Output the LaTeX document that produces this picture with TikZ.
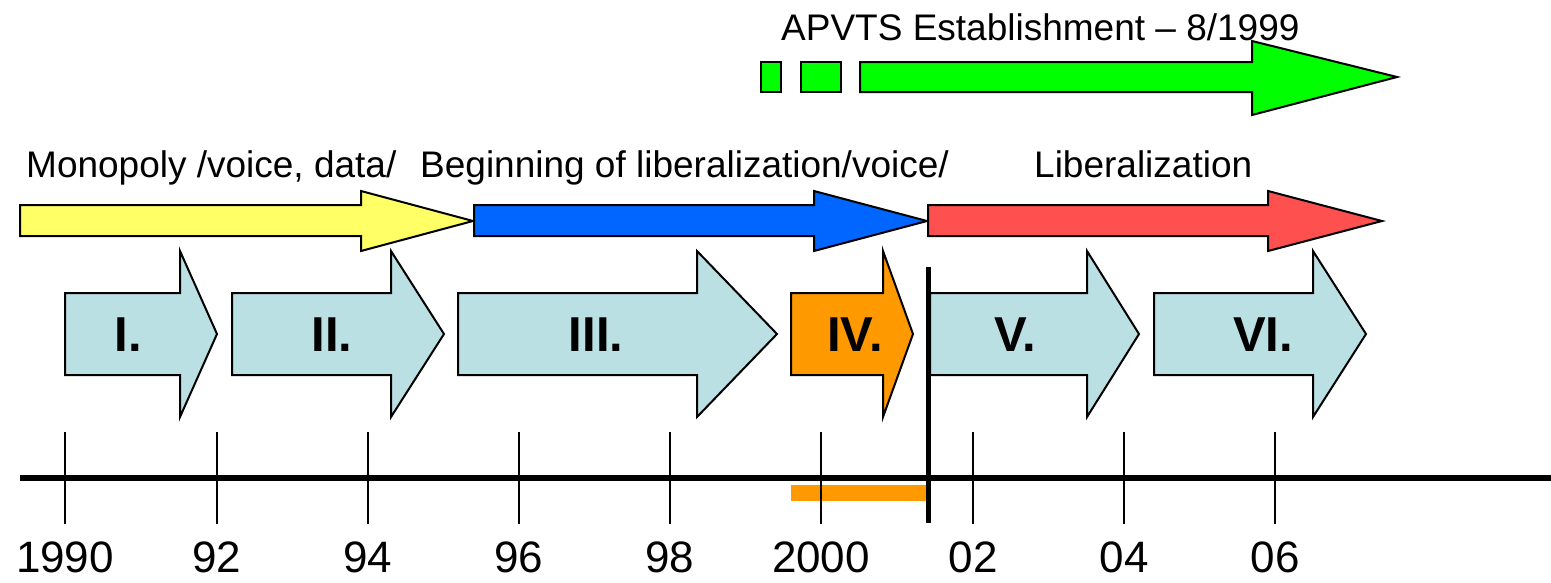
\documentclass[tikz,border=0pt]{standalone}
\usepackage{fontspec}
\setmainfont{Liberation Sans}
\usepackage{tikz}

\definecolor{phase}{HTML}{BBE0E3}
\definecolor{phaseiv}{HTML}{FF9900}
\definecolor{mono}{HTML}{FFFF66}
\definecolor{begin}{HTML}{0066FF}
\definecolor{liber}{HTML}{FF5050}
\definecolor{apvts}{HTML}{00FF00}

\begin{document}
\begin{tikzpicture}[x=1pt, y=-1pt, line join=miter,
        bigarr/.style = {draw, line width=2pt, fill=phase},
        toparr/.style = {draw, line width=2pt},
        tick/.style = {line width=1.6pt},
        era/.style = {anchor=base west, inner sep=0pt, font=\fontsize{37}{40}\selectfont},
        year/.style = {anchor=base, inner sep=0pt, font=\fontsize{44}{48}\selectfont},
        roman/.style = {inner sep=0pt, font=\fontsize{49}{52}\selectfont\bfseries}]

        \useasboundingbox (0,0) rectangle (1551,582);

        % era texts
        \node[era] (apvtsT) at (781,40) {APVTS Establishment -- 8/1999};
        \node[era] (monoT) at (26,177) {Monopoly /voice, data/};
        \node[era] (beginT) at (420,177) {Beginning of liberalization/voice/};
        \node[era] (liberT) at (1034,177) {Liberalization};

        % era arrows
        \draw[toparr, fill=apvts] (761,62) rectangle (781,92);
        \draw[toparr, fill=apvts] (801,62) rectangle (841,92);
        \draw[toparr, fill=apvts] (860,62) -- (1252,62) -- (1252,41) -- (1397,77) -- (1252,115) -- (1252,92) -- (860,92) -- cycle;
        \draw[toparr, fill=mono] (20,205) -- (361,205) -- (361,191) -- (473,221) -- (361,251) -- (361,236) -- (20,236) -- cycle;
        \draw[toparr, fill=begin] (474,205) -- (814,205) -- (814,191) -- (927,221) -- (814,251) -- (814,236) -- (474,236) -- cycle;
        \draw[toparr, fill=liber] (928,205) -- (1268,205) -- (1268,191) -- (1382,221) -- (1268,251) -- (1268,236) -- (928,236) -- cycle;

        % phase arrows
        \draw[bigarr] (65,293) -- (180,293) -- (180,251) -- (217,334) -- (180,417) -- (180,375) -- (65,375) -- cycle;
        \draw[bigarr] (232,293) -- (391,293) -- (391,251) -- (444,334) -- (391,417) -- (391,375) -- (232,375) -- cycle;
        \draw[bigarr] (458,293) -- (697,293) -- (697,251) -- (777,334) -- (697,417) -- (697,375) -- (458,375) -- cycle;
        \draw[bigarr, fill=phaseiv] (791,293) -- (883,293) -- (883,251) -- (913,334) -- (883,417) -- (883,375) -- (791,375) -- cycle;
        \draw[bigarr] (930,293) -- (1087,293) -- (1087,251) -- (1139,334) -- (1087,417) -- (1087,375) -- (930,375) -- cycle;
        \draw[bigarr] (1154,293) -- (1313,293) -- (1313,251) -- (1366,334) -- (1313,417) -- (1313,375) -- (1154,375) -- cycle;

        \node[roman] (p1) at (128,335) {I.};
        \node[roman] (p2) at (332,335) {II.};
        \node[roman] (p3) at (596,335) {III.};
        \node[roman] (p4) at (855,335) {IV.};
        \node[roman] (p5) at (1015,335) {V.};
        \node[roman] (p6) at (1263,335) {VI.};

        % time axis
        \fill[phaseiv] (791,485) rectangle (927,501);
        \draw[line width=6.5pt] (20,478) -- (1551,478);

        \node[year] (y90) at (65,572) {1990};
        \node[year] (y92) at (217,572) {92};
        \node[year] (y94) at (368,572) {94};
        \node[year] (y96) at (519,572) {96};
        \node[year] (y98) at (670,572) {98};
        \node[year] (y00) at (821,572) {2000};
        \node[year] (y02) at (973,572) {02};
        \node[year] (y04) at (1124,572) {04};
        \node[year] (y06) at (1275,572) {06};

        \draw[tick] (65,432) -- (65,524);
        \draw[tick] (217,432) -- (217,524);
        \draw[tick] (368,432) -- (368,524);
        \draw[tick] (519,432) -- (519,524);
        \draw[tick] (670,432) -- (670,524);
        \draw[tick] (821,432) -- (821,524);
        \draw[tick] (973,432) -- (973,524);
        \draw[tick] (1124,432) -- (1124,524);
        \draw[tick] (1275,432) -- (1275,524);

        \draw[line width=5pt] (928,267) -- (928,523);

\end{tikzpicture}
\end{document}
